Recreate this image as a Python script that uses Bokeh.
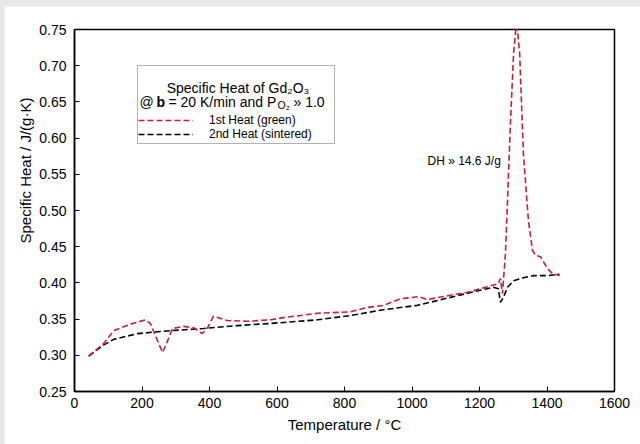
from bokeh.plotting import figure
from bokeh.models import (Range1d, FixedTicker, NumeralTickFormatter, Label, BoxAnnotation,
                          Legend, LegendItem, ColumnDataSource, Title)
from bokeh.layouts import column
from bokeh.embed import file_html
from bokeh.resources import INLINE

# ---- data ----
t_first = [42, 86, 116, 166, 210, 225, 246, 261, 276, 290, 323, 353, 379, 394, 412, 453, 513, 581,
           619, 720, 818, 867, 916, 966, 1019, 1046, 1114, 1164, 1233, 1256, 1262, 1268, 1277,
           1292, 1301, 1310, 1319, 1330, 1345, 1357, 1366, 1381, 1401, 1416, 1437]
cp_first = [0.299, 0.316, 0.334, 0.343, 0.349, 0.344, 0.320, 0.304, 0.320, 0.337, 0.340, 0.338,
            0.330, 0.338, 0.354, 0.348, 0.347, 0.349, 0.352, 0.358, 0.360, 0.366, 0.369, 0.378,
            0.381, 0.377, 0.383, 0.387, 0.396, 0.399, 0.406, 0.385, 0.441, 0.624, 0.717, 0.762,
            0.717, 0.579, 0.486, 0.445, 0.438, 0.436, 0.420, 0.413, 0.410]

t_second = [42, 86, 116, 187, 284, 382, 483, 581, 720, 818, 916, 966, 1016, 1114, 1212, 1241,
            1256, 1262, 1271, 1283, 1301, 1330, 1360, 1401, 1437]
cp_second = [0.299, 0.314, 0.322, 0.330, 0.334, 0.337, 0.341, 0.344, 0.349, 0.355, 0.363, 0.366,
             0.369, 0.380, 0.391, 0.394, 0.392, 0.373, 0.380, 0.394, 0.403, 0.407, 0.410, 0.410,
             0.412]

x_ticks = [0, 200, 400, 600, 800, 1000, 1200, 1400, 1600]
y_ticks = [0.25, 0.30, 0.35, 0.40, 0.45, 0.50, 0.55, 0.60, 0.65, 0.70, 0.75]

legend_labels = ["1st Heat (green)", "2nd Heat (sintered)"]
title_line1 = "Specific Heat of Gd\u2082O\u2083"
annotation_text = "DH \u00bb 14.6 J/g"
x_title = "Temperature / \u00b0C"
y_title = "Specific Heat / J/(g\u00b7K)"

FONT = "Liberation Sans"
RED = "#cc1f2e"

# layout constants (page pixels)
FL, FT, FW, FH = 74, 29, 540, 362   # frame left/top/width/height on the page
OFF_L, OFF_T = 4, 6                 # grey strip
X0, X1, Y0, Y1 = 0, 1600, 0.25, 0.75

def dx(px):
    return X0 + (px - FL) / FW * (X1 - X0)

def dy(py):
    return Y1 - (py - FT) / FH * (Y1 - Y0)

W, H = 640 - OFF_L, 444 - OFF_T
p = figure(width=W, height=H, output_backend="svg", toolbar_location=None,
           x_range=Range1d(X0, X1), y_range=Range1d(Y0, Y1),
           min_border_left=FL - OFF_L, min_border_top=FT - OFF_T,
           min_border_right=W - (FL - OFF_L) - FW, min_border_bottom=H - (FT - OFF_T) - FH,
           background_fill_color="white", border_fill_color="white")
p.margin = (OFF_T, 0, 0, OFF_L)
p.grid.visible = False
p.outline_line_color = "black"
p.outline_line_width = 1.5

src1 = ColumnDataSource(dict(t=t_first, cp=cp_first))
src2 = ColumnDataSource(dict(t=t_second, cp=cp_second))
r2 = p.line("t", "cp", source=src2, line_color="black", line_width=1.6, line_dash="6 3")
r1 = p.line("t", "cp", source=src1, line_color=RED, line_width=1.6, line_dash="6 3")

for ax in (p.xaxis[0], p.yaxis[0]):
    ax.major_tick_in = 5
    ax.major_tick_out = 0
    ax.minor_tick_line_color = None
    ax.axis_line_width = 1.5
    ax.major_tick_line_width = 1
    ax.major_label_text_font = FONT
    ax.major_label_text_font_size = "14px"
    ax.major_label_text_color = "black"
    ax.axis_label_text_font = FONT
    ax.axis_label_text_font_size = "15px"
    ax.axis_label_text_font_style = "normal"
    ax.axis_label_text_color = "black"

p.xaxis.ticker = FixedTicker(ticks=x_ticks)
p.yaxis.ticker = FixedTicker(ticks=y_ticks)
p.yaxis.formatter = NumeralTickFormatter(format="0.00")
p.xaxis.major_label_standoff = 6
p.yaxis.major_label_standoff = 8
p.xaxis.axis_label = x_title
p.xaxis.axis_label_standoff = 5

# y axis title, starting well above the bottom as in the reference
p.add_layout(Title(text=y_title, align="left", offset=148, text_font=FONT,
                   text_font_size="15px", text_font_style="normal", text_color="black",
                   standoff=6), "left")

# legend box
p.add_layout(BoxAnnotation(left=dx(137), right=dx(334), top=dy(65), bottom=dy(143),
                           fill_color="white", fill_alpha=1.0, line_color="black",
                           line_width=1, level="annotation"))

def lab(x, y, text, size="14px", style="normal", align="left"):
    p.add_layout(Label(x=dx(x), y=dy(y), text=text, text_font=FONT, text_font_size=size,
                       text_font_style=style, text_align=align, text_baseline="alphabetic",
                       text_color="black"))

lab(237.5, 87, title_line1, align="center")
lab(139, 101, "@")
lab(156, 101, "b", style="bold")
lab(168, 101, "= 20 K/min and P")
lab(277, 104, "O\u2082", size="10.5px")
lab(293, 101, "\u00bb 1.0")
lab(427, 160, annotation_text, size="12px")

for rend, label, cy in ((r1, legend_labels[0], 121), (r2, legend_labels[1], 134.5)):
    lg = Legend(items=[LegendItem(label=label, renderers=[rend])],
                location=(138 - FL, FT + FH - cy - 6), orientation="vertical",
                glyph_width=55, glyph_height=12, label_height=12, label_standoff=16,
                padding=0, margin=0, spacing=0, border_line_color=None,
                background_fill_alpha=0, label_text_font=FONT,
                label_text_font_size="12px", label_text_color="black")
    p.add_layout(lg)

page = column(p, styles={"background-color": "#e8e8e8"})
open("out.html", "w").write(file_html(page, INLINE))
